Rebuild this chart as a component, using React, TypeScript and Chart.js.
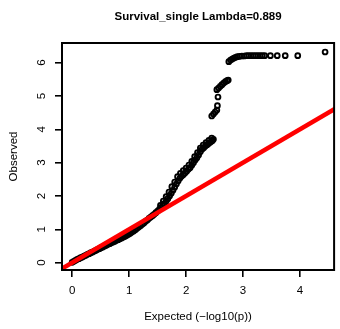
import React, { useEffect, useRef } from "react";
import { Chart, registerables } from "chart.js";

Chart.register(...registerables);

const TITLE = "Survival_single Lambda=0.889";
const X_LABEL = "Expected (\u2212log10(p))";
const Y_LABEL = "Observed";
const X_TICKS = [0, 1, 2, 3, 4];
const Y_TICKS = [0, 1, 2, 3, 4, 5, 6];

const expected = [
  0.0, 0.03, 0.06, 0.09, 0.12, 0.15, 0.18, 0.21, 0.24, 0.27,
  0.3, 0.33, 0.36, 0.39, 0.42, 0.45, 0.48, 0.51, 0.54, 0.57,
  0.6, 0.63, 0.66, 0.69, 0.72, 0.75, 0.78, 0.81, 0.84, 0.87,
  0.9, 0.93, 0.96, 0.99, 1.02, 1.05, 1.08, 1.11, 1.14, 1.17,
  1.2, 1.23, 1.26, 1.29, 1.32, 1.35, 1.38, 1.41, 1.44, 1.47,
  1.5, 1.53, 1.56, 1.59, 1.62, 1.65, 1.68, 1.71, 1.74, 1.77,
  1.8, 1.83, 1.86, 1.89, 1.92, 1.95, 1.98, 2.01, 2.04, 2.07,
  2.1, 2.13, 2.16, 2.19, 2.22, 2.25, 2.28, 2.31, 2.34, 2.37,
  2.4, 2.43, 2.46, 2.48,
  2.45, 2.48, 2.51, 2.54,
  2.55, 2.56,
  2.54, 2.57, 2.6, 2.63, 2.66, 2.69, 2.72, 2.74,
  2.75, 2.78, 2.81, 2.84, 2.87, 2.9, 2.94, 2.98, 3.02, 3.06,
  3.1, 3.14, 3.18, 3.22, 3.26, 3.3, 3.34, 3.38, 3.48, 3.6,
  3.74, 3.96, 4.44,
];

const observed = [
  0.01, 0.04, 0.07, 0.1, 0.12, 0.15, 0.17, 0.2, 0.22, 0.25,
  0.27, 0.3, 0.32, 0.35, 0.37, 0.4, 0.42, 0.45, 0.47, 0.5,
  0.52, 0.55, 0.57, 0.6, 0.62, 0.64, 0.67, 0.69, 0.72, 0.74,
  0.77, 0.79, 0.82, 0.85, 0.88, 0.92, 0.95, 0.99, 1.03, 1.07,
  1.11, 1.15, 1.19, 1.24, 1.28, 1.33, 1.37, 1.41, 1.45, 1.5,
  1.55, 1.6, 1.65, 1.71, 1.77, 1.84, 1.92, 2.0, 2.08, 2.17,
  2.26, 2.36, 2.45, 2.53, 2.59, 2.64, 2.69, 2.74, 2.8, 2.85,
  2.92, 3.0, 3.08, 3.15, 3.23, 3.33, 3.4, 3.45, 3.5, 3.54,
  3.58, 3.62, 3.66, 3.7,
  4.4, 4.46, 4.52, 4.58,
  4.71, 4.97,
  5.19, 5.24, 5.29, 5.34, 5.39, 5.43, 5.46, 5.48,
  6.03, 6.08, 6.11, 6.14, 6.16, 6.18, 6.19, 6.2, 6.2, 6.21,
  6.21, 6.21, 6.21, 6.21, 6.21, 6.21, 6.21, 6.21, 6.21, 6.21,
  6.21, 6.21, 6.32,
];

// upper-left edge of the thick band between expected 1.55 and 2.45
const bandEdgeExpected = [
  1.55, 1.6, 1.65, 1.7, 1.75, 1.8, 1.85, 1.9, 1.95, 2.0,
  2.05, 2.1, 2.15, 2.2, 2.25, 2.3, 2.35, 2.4, 2.45,
];
const bandEdgeObserved = [
  1.72, 1.85, 1.98, 2.12, 2.28, 2.42, 2.58, 2.68, 2.76, 2.84,
  2.93, 3.04, 3.18, 3.3, 3.44, 3.53, 3.6, 3.67, 3.74,
];

const refLineX = [-1, 5];
const refLineY = [-1, 5];

const FONT = '"Liberation Sans", Arial, Helvetica, sans-serif';

export default function App() {
  const ref = useRef<HTMLCanvasElement>(null);

  useEffect(() => {
    document.body.style.margin = "0";
    const canvas = ref.current;
    if (!canvas) return;

    const rPlugin = {
      id: "rstyle",
      afterDatasetsDraw(chart: any) {
        const { ctx, chartArea: a } = chart;
        ctx.save();
        ctx.strokeStyle = "#000";
        ctx.lineWidth = 2;
        ctx.strokeRect(a.left, a.top, a.right - a.left, a.bottom - a.top);
        ctx.restore();
      },
      afterDraw(chart: any) {
        const { ctx, chartArea: a } = chart;
        const ys = chart.scales.y;
        ctx.save();
        ctx.fillStyle = "#000";
        ctx.font = `bold 11.5px ${FONT}`;
        ctx.textAlign = "center";
        ctx.textBaseline = "middle";
        ctx.fillText(TITLE, (a.left + a.right) / 2, 17);
        ctx.font = `11.5px ${FONT}`;
        ctx.fillText(X_LABEL, (a.left + a.right) / 2, 317);
        for (const t of ys.ticks) {
          const py = ys.getPixelForValue(t.value);
          ctx.save();
          ctx.translate(42, py);
          ctx.rotate(-Math.PI / 2);
          ctx.fillText(String(t.value), 0, 0);
          ctx.restore();
        }
        ctx.save();
        ctx.translate(13.5, (a.top + a.bottom) / 2);
        ctx.rotate(-Math.PI / 2);
        ctx.fillText(Y_LABEL, 0, 0);
        ctx.restore();
        ctx.restore();
      },
    };

    const pointStyle = {
      pointRadius: 2.4,
      pointBorderWidth: 1.9,
      borderColor: "#000",
      backgroundColor: "rgba(0,0,0,0)",
      pointBackgroundColor: "rgba(0,0,0,0)",
      pointBorderColor: "#000",
      order: 1,
    };

    const chart = new Chart(canvas, {
      type: "scatter",
      data: {
        datasets: [
          {
            type: "line",
            data: refLineX.map((x, i) => ({ x, y: refLineY[i] })),
            borderColor: "#FF0000",
            borderWidth: 4.5,
            pointRadius: 0,
            tension: 0,
            clip: 0,
            order: 0,
          } as any,
          {
            data: expected.map((x, i) => ({ x, y: observed[i] })),
            ...pointStyle,
          },
          {
            data: bandEdgeExpected.map((x, i) => ({ x, y: bandEdgeObserved[i] })),
            ...pointStyle,
          },
        ],
      },
      options: {
        responsive: false,
        animation: false,
        events: [],
        layout: { padding: { top: 43, right: 1, left: 0, bottom: 0 } },
        plugins: {
          legend: { display: false },
          tooltip: { enabled: false },
          title: { display: false },
        },
        scales: {
          x: {
            type: "linear",
            min: -0.178,
            max: 4.598,
            afterBuildTicks: (s: any) => {
              s.ticks = X_TICKS.map((v) => ({ value: v }));
            },
            afterFit: (s: any) => {
              s.height = 59;
            },
            grid: {
              drawOnChartArea: false,
              drawTicks: true,
              tickLength: 7,
              color: "#000",
              lineWidth: 1.6,
            },
            border: { display: false },
            ticks: {
              color: "#000",
              font: { family: FONT, size: 11.5 },
              padding: 7,
              maxRotation: 0,
              autoSkip: false,
            },
          },
          y: {
            type: "linear",
            min: -0.22,
            max: 6.59,
            afterBuildTicks: (s: any) => {
              s.ticks = Y_TICKS.map((v) => ({ value: v }));
            },
            afterFit: (s: any) => {
              s.width = 62;
            },
            grid: {
              drawOnChartArea: false,
              drawTicks: true,
              tickLength: 7,
              color: "#000",
              lineWidth: 1.6,
            },
            border: { display: false },
            ticks: { display: false },
          },
        },
      },
      plugins: [rPlugin],
    } as any);

    return () => chart.destroy();
  }, []);

  return (
    <div style={{ position: "absolute", left: 0, top: 0, width: 340, height: 329 }}>
      <canvas ref={ref} width={340} height={329} style={{ display: "block" }} />
    </div>
  );
}
